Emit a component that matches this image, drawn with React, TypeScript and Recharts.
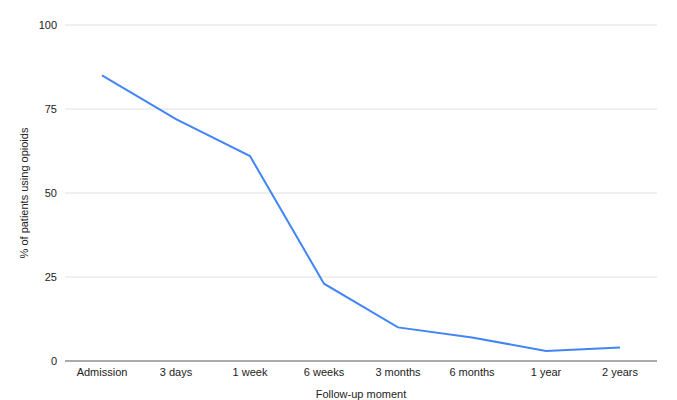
import React from "react";
import {
  LineChart,
  Line,
  XAxis,
  YAxis,
  CartesianGrid,
  Label,
} from "recharts";

const moments = [
  "Admission",
  "3 days",
  "1 week",
  "6 weeks",
  "3 months",
  "6 months",
  "1 year",
  "2 years",
];
const opioidPct = [85, 72, 61, 23, 10, 7, 3, 4];
const yTicks = [0, 25, 50, 75, 100];

const data = moments.map((moment, i) => ({ moment, pct: opioidPct[i] }));

const FONT = "Arial, 'Liberation Sans', sans-serif";

export default function App() {
  return (
    <div style={{ position: "absolute", left: 0, top: 0, background: "#fff" }}>
      <LineChart
        width={677}
        height={400}
        data={data}
        margin={{ top: 25, right: 20, bottom: 0, left: 0 }}
        style={{ fontFamily: FONT }}
      >
        <CartesianGrid vertical={false} stroke="#e0e0e0" />
        <XAxis
          dataKey="moment"
          height={39}
          padding={{ left: 37, right: 37 }}
          tickLine={false}
          tickSize={0}
          tickMargin={7}
          stroke="#666"
          tick={{ fill: "#222", fontSize: 11 }}
          interval={0}
        >
          <Label
            value="Follow-up moment"
            position="insideBottom"
            offset={2}
            style={{ fill: "#222", fontSize: 11 }}
          />
        </XAxis>
        <YAxis
          width={65}
          domain={[0, 100]}
          ticks={yTicks}
          axisLine={false}
          tickLine={false}
          tickSize={0}
          tickMargin={8}
          tick={{ fill: "#222", fontSize: 11 }}
        >
          <Label
            value="% of patients using opioids"
            angle={-90}
            position="insideLeft"
            offset={24}
            style={{ fill: "#222", fontSize: 11, textAnchor: "middle" }}
          />
        </YAxis>
        <Line
          type="linear"
          dataKey="pct"
          stroke="#4285f4"
          strokeWidth={2}
          dot={false}
          isAnimationActive={false}
        />
      </LineChart>
    </div>
  );
}
